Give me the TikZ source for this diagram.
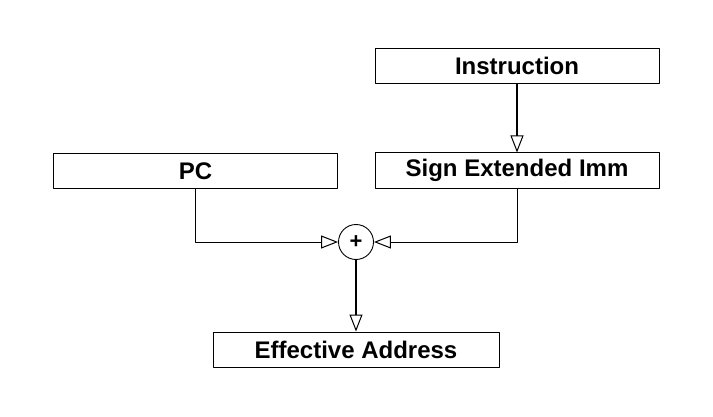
\documentclass[tikz,border=0pt]{standalone}
\usepackage{fontspec}
\setmainfont{Liberation Sans}
\usetikzlibrary{arrows.meta}
\tikzset{
	blockbox/.style={draw, line width=1pt, minimum width=284pt, minimum height=35pt, inner sep=0pt, font=\fontsize{24}{26}\selectfont\bfseries},
	sumnode/.style={draw, circle, line width=0.9pt, minimum size=35pt, inner sep=0pt, font=\fontsize{22}{24}\selectfont\bfseries},
	thinarrow/.style={line width=1pt, -{Triangle[open, length=17pt, width=13pt]}},
	thickarrow/.style={line width=2pt, -{Triangle[open, length=17pt, width=13pt, line width=1pt]}}
}
\begin{document}
\begin{tikzpicture}[x=1pt, y=1pt, line join=round]
				\useasboundingbox (0,0) rectangle (713,416);
				
				\node[blockbox] (instr) at (517,350) {Instruction};
				\node[blockbox] (sext) at (517,245.5) {Sign Extended Imm};
				\node[blockbox] (pc) at (195.5,245) {PC};
				\node[blockbox, minimum width=286pt] (ea) at (356,66.5) {Effective Address};
				\node[sumnode] (sum) at (356,174) {+};
				
				\draw[thickarrow] (instr) -- (sext);
				\draw[thinarrow] (pc.south) |- (sum.west);
				\draw[thinarrow] (sext.south) |- (sum.east);
				\draw[thickarrow] (sum) -- (ea);
			\end{tikzpicture}
\end{document}
